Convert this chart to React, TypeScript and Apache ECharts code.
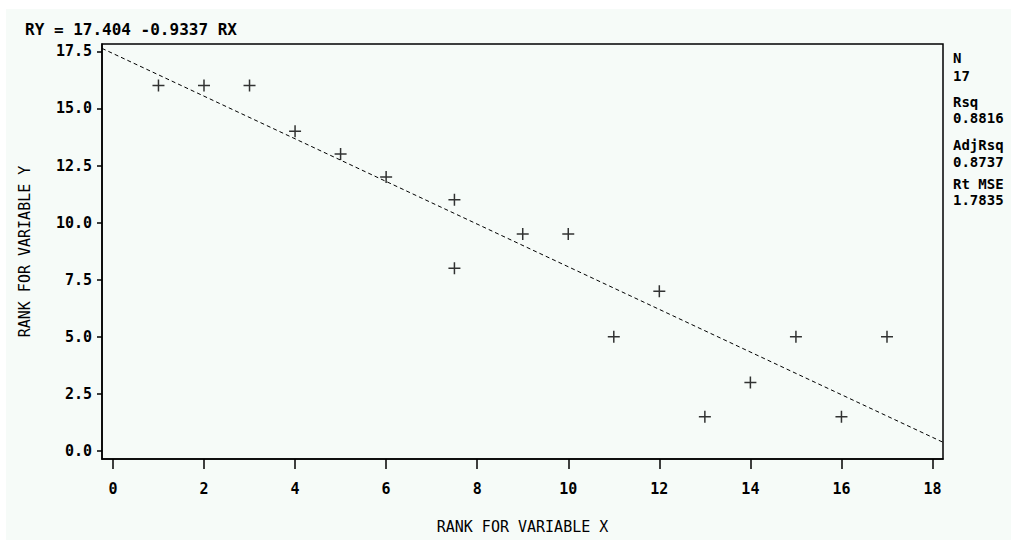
import React, { useEffect, useRef } from "react";
import * as echarts from "echarts";

const rankX = [1, 2, 3, 4, 5, 6, 7.5, 7.5, 9, 10, 11, 12, 13, 14, 15, 16, 17];
const rankY = [16, 16, 16, 14, 13, 12, 11, 8, 9.5, 9.5, 5, 7, 1.5, 3, 5, 1.5, 5];
const intercept = 17.404;
const slope = -0.9337;
const xTicks = [0, 2, 4, 6, 8, 10, 12, 14, 16, 18];
const yTicks = [0, 2.5, 5, 7.5, 10, 12.5, 15, 17.5];
const statLabels = ["N", "Rsq", "AdjRsq", "Rt MSE"];
const statValues = ["17", "0.8816", "0.8737", "1.7835"];
const xMin = -0.24;
const xMax = 18.23;
const yMin = -0.35;
const yMax = 17.82;

const FONT = "'DejaVu Sans Mono', monospace";

export default function App() {
  const ref = useRef<HTMLDivElement>(null);
  useEffect(() => {
    if (!ref.current) return;
    const chart = echarts.init(ref.current, null, { renderer: "svg" });
    const linePts = [
      [xMin, intercept + slope * xMin],
      [xMax, intercept + slope * xMax],
    ];
    const statGraphics: any[] = [];
    const labelY = [58, 102, 145, 184];
    const valueY = [76, 118, 162, 200];
    statLabels.forEach((s, i) => {
      statGraphics.push({
        type: "text",
        x: 953,
        y: labelY[i],
        style: { text: s, font: `bold 14px ${FONT}`, lineHeight: 14, fill: "#000", verticalAlign: "middle" },
      });
      statGraphics.push({
        type: "text",
        x: 953,
        y: valueY[i],
        style: { text: statValues[i], font: `bold 14px ${FONT}`, lineHeight: 14, fill: "#000", verticalAlign: "middle" },
      });
    });
    chart.setOption({
      animation: false,
      backgroundColor: "#ffffff",
      graphic: [
        {
          type: "rect",
          z: -10,
          silent: true,
          shape: { x: 6, y: 9, width: 1005, height: 531 },
          style: { fill: "#f6fbf8" },
        },
        {
          type: "text",
          x: 25,
          y: 29,
          style: {
            text: `RY = ${intercept} ${slope} RX`,
            font: `bold 16px ${FONT}`,
            fill: "#000",
            verticalAlign: "middle",
          },
        },
        ...statGraphics,
      ],
      grid: {
        left: 102,
        right: 74,
        top: 44,
        bottom: 81,
        show: true,
        borderColor: "#000",
        borderWidth: 1.5,
        backgroundColor: "transparent",
      },
      xAxis: {
        type: "value",
        min: xMin,
        max: xMax,
        name: "RANK FOR VARIABLE X",
        nameLocation: "middle",
        nameGap: 60,
        nameTextStyle: { fontFamily: FONT, fontSize: 15, color: "#000" },
        axisLine: { show: true, onZero: false, lineStyle: { color: "#000", width: 1.5 } },
        axisTick: {
          show: true,
          length: 10,
          customValues: xTicks,
          lineStyle: { color: "#000", width: 1.5 },
        },
        axisLabel: {
          customValues: xTicks,
          margin: 22,
          fontFamily: FONT,
          fontWeight: "bold",
          fontSize: 15,
          color: "#000",
        },
        splitLine: { show: false },
      },
      yAxis: {
        type: "value",
        min: yMin,
        max: yMax,
        name: "RANK FOR VARIABLE Y",
        nameLocation: "middle",
        nameGap: 70,
        nameRotate: 90,
        nameTextStyle: { fontFamily: FONT, fontSize: 15, color: "#000" },
        axisLine: { show: true, onZero: false, lineStyle: { color: "#000", width: 1.5 } },
        axisTick: {
          show: true,
          length: 5,
          customValues: yTicks,
          lineStyle: { color: "#000", width: 1.5 },
        },
        axisLabel: {
          customValues: yTicks,
          margin: 10,
          fontFamily: FONT,
          fontWeight: "bold",
          fontSize: 15,
          color: "#000",
          formatter: (v: number) => v.toFixed(1),
        },
        splitLine: { show: false },
      },
      series: [
        {
          type: "line",
          data: linePts,
          showSymbol: false,
          symbol: "none",
          lineStyle: { color: "#000", width: 1, type: [4, 3] },
          silent: true,
          z: 1,
        },
        {
          type: "scatter",
          data: rankX.map((x, i) => [x, rankY[i]]),
          symbol: "path://M5.25,0h1.5v5.25h5.25v1.5h-5.25v5.25h-1.5v-5.25h-5.25v-1.5h5.25z",
          symbolSize: 12,
          itemStyle: { color: "#000" },
          z: 2,
        },
      ],
    });
    return () => chart.dispose();
  }, []);
  return (
    <div
      ref={ref}
      style={{ position: "fixed", left: 0, top: 0, width: 1017, height: 540 }}
    />
  );
}
